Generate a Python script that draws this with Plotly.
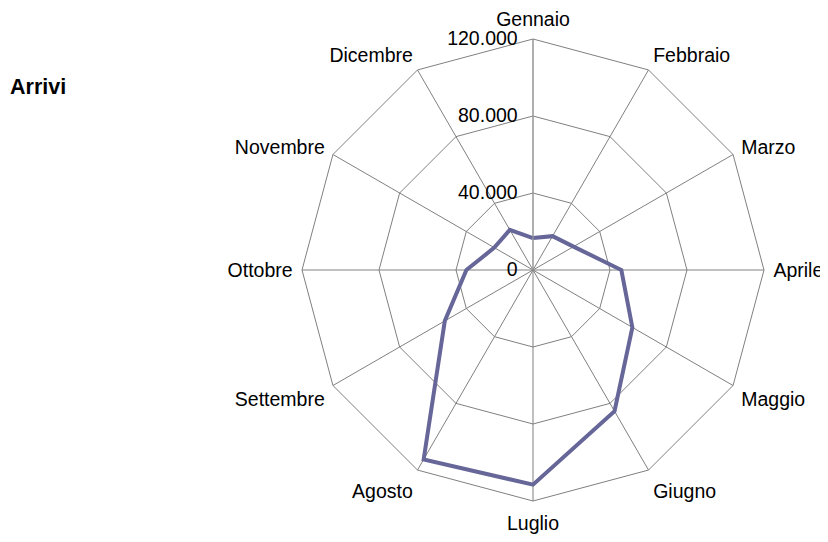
import plotly.graph_objects as go

months = ["Gennaio", "Febbraio", "Marzo", "Aprile", "Maggio", "Giugno",
          "Luglio", "Agosto", "Settembre", "Ottobre", "Novembre", "Dicembre"]
arrivi = [16600, 20300, 24300, 45900, 59600, 84700,
          111500, 113600, 52900, 34600, 23200, 24100]
tick_vals = [0, 40000, 80000, 120000]
tick_text = ["0", "40.000", "80.000", "120.000"]

W, H = 828, 542
cx, cy, R = 525, 262, 231  # centre/radius in figure pixels (page adds 8px body margin)

fig = go.Figure()
fig.add_trace(go.Scatterpolar(
    r=arrivi + [arrivi[0]],
    theta=months + [months[0]],
    mode="lines",
    line=dict(color="#666699", width=4),
    showlegend=False,
    hoverinfo="skip",
))

fig.update_layout(
    width=W, height=H,
    margin=dict(l=0, r=0, t=0, b=0),
    paper_bgcolor="white",
    plot_bgcolor="white",
    font=dict(family="Liberation Sans, Arial, sans-serif", size=19.5, color="black"),
    polar=dict(
        domain=dict(x=[(cx - R) / W, (cx + R) / W],
                    y=[1 - (cy + R) / H, 1 - (cy - R) / H]),
        bgcolor="white",
        gridshape="linear",
        radialaxis=dict(
            range=[0, 120000],
            tickvals=tick_vals,
            ticktext=tick_text,
            angle=90,
            tickangle=90,
            side="counterclockwise",
            showline=True,
            linecolor="#a0a0a0",
            linewidth=1,
            gridcolor="#808080",
            gridwidth=1,
            ticks="outside",
            ticklen=8,
            tickcolor="rgba(0,0,0,0)",
            tickfont=dict(size=19.5, color="black"),
        ),
        angularaxis=dict(
            rotation=90,
            direction="clockwise",
            showline=True,
            linecolor="#808080",
            linewidth=1,
            gridcolor="#808080",
            gridwidth=1,
            ticks="outside",
            ticklen=5,
            tickcolor="rgba(0,0,0,0)",
            tickfont=dict(size=19.5, color="black"),
        ),
    ),
    annotations=[dict(
        text="<b>Arrivi</b>", x=0, y=1 - 79 / H, xref="paper", yref="paper",
        xshift=0,
        showarrow=False, font=dict(size=21.5, color="black"),
        xanchor="left", yanchor="middle",
    )],
)

fig.write_html("out.html")
